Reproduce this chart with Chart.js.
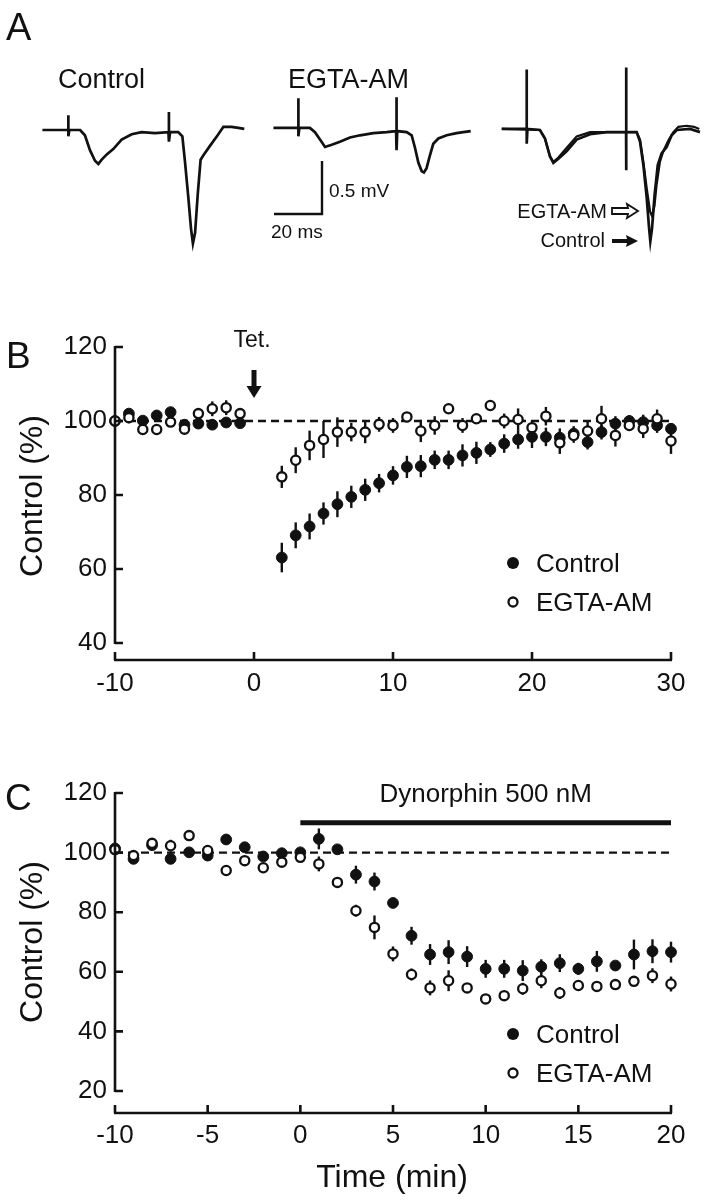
<!DOCTYPE html>
<html>
<head>
<meta charset="utf-8">
<script src="https://cdn.jsdelivr.net/npm/chart.js@4.4.1/dist/chart.umd.min.js"></script>
<style>
  body { margin: 0; background: #fff; }
  #page { position: relative; width: 706px; height: 1200px; overflow: hidden; background: #fff; }
  .panel { position: absolute; left: 0; width: 706px; }
</style>
</head>
<body>
<div id="page">
  <div class="panel" style="top:0;height:270px"><canvas id="chartA" width="706" height="270"></canvas></div>
  <div class="panel" style="top:300px;height:420px"><canvas id="chartB" width="706" height="420"></canvas></div>
  <div class="panel" style="top:740px;height:460px"><canvas id="chartC" width="706" height="460"></canvas></div>
</div>
<script>
// ---------- A: field potential traces, [ms, mV] ----------
const ctrlTrace = [[3.1,0],[13.9,0],[13.9,0.14],[13.9,-0.06],[14.3,0],[18.8,0],[20.8,-0.05],[22.9,-0.19],[25.0,-0.29],[26.4,-0.32],[27.8,-0.28],[29.9,-0.23],[32.6,-0.18],[36.1,-0.09],[40.3,-0.04],[44.4,-0.02],[50.0,-0.03],[55.6,-0.02],[55.8,0.17],[55.8,-0.11],[56.3,-0.02],[59.7,-0.02],[61.4,-0.06],[62.5,-0.30],[63.9,-0.64],[65.0,-0.93],[65.8,-1.07],[66.7,-0.97],[67.8,-0.61],[69.0,-0.28],[70.1,-0.24],[72.9,-0.15],[76.1,-0.05],[78.5,0.03],[81.9,0.03],[84.7,0.02],[87.2,0.01]];
const egtaTrace = [[5.6,0.02],[16.0,0.02],[16.0,0.30],[16.0,-0.06],[16.4,0.02],[20.8,0.02],[22.9,-0.02],[25.0,-0.09],[27.1,-0.16],[29.9,-0.14],[33.3,-0.11],[37.5,-0.07],[41.7,-0.05],[47.2,-0.03],[52.8,-0.02],[56.7,-0.01],[56.9,0.31],[56.9,-0.19],[57.2,-0.01],[61.1,-0.02],[63.2,-0.05],[64.6,-0.17],[66.0,-0.31],[67.4,-0.39],[68.3,-0.40],[69.4,-0.36],[70.8,-0.24],[72.2,-0.13],[74.3,-0.08],[77.8,-0.05],[81.9,-0.03],[84.7,-0.02],[87.8,-0.01]];
const overlayCtrl = [[4.9,0.01],[15.3,0.01],[15.3,0.57],[15.3,-0.13],[15.6,0.01],[20.8,0],[22.9,-0.08],[25.0,-0.25],[26.4,-0.31],[28.5,-0.27],[31.9,-0.20],[36.1,-0.09],[41.7,-0.04],[48.6,-0.02],[56.7,-0.02],[56.7,0.59],[56.7,-0.38],[56.9,-0.02],[61.1,-0.02],[62.5,-0.11],[63.9,-0.33],[65.3,-0.64],[66.3,-0.93],[66.8,-1.05],[67.5,-0.93],[68.6,-0.61],[69.9,-0.33],[71.5,-0.22],[73.6,-0.16],[75.7,-0.05],[77.8,0],[83.3,0.01],[87.5,-0.02]];
const overlayEgta = [[4.9,0.01],[20.8,0],[22.9,-0.08],[25.0,-0.25],[26.4,-0.30],[28.5,-0.26],[31.9,-0.17],[36.1,-0.06],[41.7,-0.02],[48.6,-0.02],[56.7,-0.02],[61.1,-0.02],[62.5,-0.09],[63.9,-0.30],[65.3,-0.55],[66.7,-0.77],[67.5,-0.81],[68.5,-0.72],[69.4,-0.52],[70.8,-0.30],[72.2,-0.20],[74.3,-0.10],[76.4,-0.02],[78.5,0.03],[81.9,0.04],[85.0,0.03],[87.2,0.01]];
const scaleBarMs = 20;
const scaleBarMv = 0.5;

// ---------- B: tetanus, % of control ----------
const timeB = [-10,-9,-8,-7,-6,-5,-4,-3,-2,-1,2,3,4,5,6,7,8,9,10,11,12,13,14,15,16,17,18,19,20,21,22,23,24,25,26,27,28,29,30];
const ctrlB = [100,102,100.1,101.5,102.4,99,99.3,99,99.6,99.4,
  63.1,69.1,71.5,75,77.5,79.5,81.4,83.2,85.3,87.6,87.8,89.5,89.5,90.7,91.4,92.3,93.9,95.0,95.7,95.7,95.5,96.6,94.3,97.0,99.3,100,99.7,98.8,97.9];
const ctrlBErr = [1,1,1,1,1,1,1,1,1,1,
  4,3.5,3.5,3,3.5,3,3,2.5,2.5,3,3,2.5,2.5,3,3,2,2.5,2.5,3,2.5,2.5,2,2,2,2,1.5,2,2,1.5];
const egtaB = [100,100.9,97.7,97.7,99.7,97.8,102,103.3,103.6,102,
  84.9,89.4,93.4,95,97,97,97,99.1,98.8,101.1,97.3,98.8,103.3,98.8,100.6,104.2,100,100.4,98.2,101.3,94.1,96.1,97.3,100.6,96.1,98.8,97.9,100.6,94.6];
const egtaBErr = [1,1.5,1,1,1,1,1.5,2,2,1.5,
  3,3.5,4,5,4,2.5,3,2,2,1,3,2.5,1,2,1,1,2,3,2,2.5,3,2,2.5,3.5,3,1.5,2.5,2.5,3.5];
const xTicksB = [-10, 0, 10, 20, 30];
const yTicksB = [40, 60, 80, 100, 120];
const tetanusAt = 0;

// ---------- C: dynorphin, % of control ----------
const timeC = [-10,-9,-8,-7,-6,-5,-4,-3,-2,-1,0,1,2,3,4,5,6,7,8,9,10,11,12,13,14,15,16,17,18,19,20];
const ctrlC = [101.4,97.9,102.5,97.9,100.1,99,104.4,101.8,98.7,99.8,100.1,104.6,101.1,92.6,90.3,83.1,72.1,65.8,66.6,65.1,61,61,60.4,61.7,62.9,61,63.5,62.1,65.8,66.9,66.6];
const ctrlCErr = [1,1,1,1,1,1,1,1,1,1,1,3.5,1,3,3,1,3,3.5,4,3.5,3,3,3.5,2.5,3,2,3.5,1,5,4,3.5];
const egtaC = [101,99,103.1,102.3,105.7,100.7,94.0,97.3,94.9,96.8,98.4,96.2,90.0,80.5,74.9,66.0,59.1,54.6,57.0,54.6,50.9,52.0,54.3,57.0,52.9,55.4,55.1,55.7,56.8,58.7,55.9];
const egtaCErr = [1,1,1,2,1,1,1,1,1.5,1.5,1,2.5,1,2,4,2.5,2,2.5,3.5,1.5,1.5,1.5,2,2.5,2,1.5,1.5,1.5,1,2.5,2.5];
const xTicksC = [-10, -5, 0, 5, 10, 15, 20];
const yTicksC = [20, 40, 60, 80, 100, 120];
const dynorphinFrom = 0;
const dynorphinTo = 20;
const dynorphinLabel = 'Dynorphin 500 nM';

// ---------- style / layout ----------
const INK = '#111';
const FONT = "'Liberation Sans', Arial, Helvetica, sans-serif";
const PX_PER_MS = 2.4, PX_PER_MV = 106, A_BASELINE = 130;
const traceOffsets = [35 / PX_PER_MS, 260 / PX_PER_MS, 490 / PX_PER_MS];

const pts = (xs, ys) => xs.map((x, i) => ({ x: x, y: ys[i] }));
const shift = (arr, dx) => arr.map(p => ({ x: p[0] + dx, y: p[1] }));

function text(ctx, str, x, y, size, align) {
    ctx.font = size + 'px ' + FONT;
    ctx.fillStyle = INK;
    ctx.textAlign = align || 'left';
    ctx.textBaseline = 'alphabetic';
    ctx.fillText(str, x, y);
}

// detached axes with inward ticks, like the printed figure
function axesPlugin(xTicks, yTicks) {
    return {
        id: 'sciAxes',
        afterDraw(chart) {
            const { ctx, scales: { x, y }, chartArea } = chart;
            const x0 = x.getPixelForValue(xTicks[0]);
            const x1 = x.getPixelForValue(xTicks[xTicks.length - 1]);
            const yTop = y.getPixelForValue(yTicks[yTicks.length - 1]);
            const yBot = y.getPixelForValue(yTicks[0]);
            const base = chartArea.bottom;
            ctx.save();
            ctx.strokeStyle = INK;
            ctx.lineWidth = 2.6;
            ctx.beginPath();
            ctx.moveTo(x0, yTop - 1); ctx.lineTo(x0, yBot + 1);
            yTicks.forEach(v => { const py = y.getPixelForValue(v); ctx.moveTo(x0, py); ctx.lineTo(x0 + 8, py); });
            ctx.moveTo(x0 - 1, base); ctx.lineTo(x1 + 1, base);
            xTicks.forEach(v => { const px = x.getPixelForValue(v); ctx.moveTo(px, base); ctx.lineTo(px, base - 8); });
            ctx.stroke();
            ctx.restore();
        }
    };
}

function errorPlugin(sets) {
    return {
        id: 'errBars',
        beforeDatasetsDraw(chart) {
            const { ctx, scales: { x, y } } = chart;
            ctx.save();
            ctx.strokeStyle = INK;
            ctx.lineWidth = 2.4;
            sets.forEach(s => {
                s.xs.forEach((t, i) => {
                    const px = x.getPixelForValue(t);
                    ctx.beginPath();
                    ctx.moveTo(px, y.getPixelForValue(s.ys[i] - s.err[i]));
                    ctx.lineTo(px, y.getPixelForValue(s.ys[i] + s.err[i]));
                    ctx.stroke();
                });
            });
            ctx.restore();
        }
    };
}

function legendAndTitle(chart, legendY, titleY) {
    const ctx = chart.ctx;
    ctx.save();
    ctx.beginPath(); ctx.arc(513, legendY, 6, 0, 2 * Math.PI); ctx.fillStyle = INK; ctx.fill();
    ctx.beginPath(); ctx.arc(513, legendY + 39, 4.5, 0, 2 * Math.PI);
    ctx.fillStyle = '#fff'; ctx.fill(); ctx.strokeStyle = INK; ctx.lineWidth = 2.3; ctx.stroke();
    text(ctx, 'Control', 536, legendY + 9, 26);
    text(ctx, 'EGTA-AM', 536, legendY + 48, 26);
    ctx.translate(42, titleY);
    ctx.rotate(-Math.PI / 2);
    text(ctx, 'Control (%)', 0, 0, 32, 'center');
    ctx.restore();
}

function pointSets(xs, ctrl, egta, extra) {
    return [
        { data: pts(xs, egta), order: 1, clip: false, pointRadius: 4.6, pointBorderWidth: 2.3,
          pointBackgroundColor: '#fff', pointBorderColor: INK, showLine: false },
        { data: pts(xs, ctrl), order: 2, clip: false, pointRadius: 5.4, pointBorderWidth: 1,
          pointBackgroundColor: INK, pointBorderColor: INK, showLine: false },
        { data: [{ x: xs[0], y: 100 }, { x: xs[xs.length - 1], y: 100 }], order: 10, showLine: true,
          borderColor: INK, borderWidth: 2.4, borderDash: [8, 5], pointRadius: 0 }
    ].concat(extra || []);
}

function scaleOpts(min, max, ticks, size, fitKey, fitVal, pad, display) {
    return {
        type: 'linear', min: min, max: max, display: display !== false,
        grid: { display: false, drawTicks: false }, border: { display: false },
        afterBuildTicks: ax => { ax.ticks = ticks.map(v => ({ value: v })); },
        afterFit: ax => { ax[fitKey] = fitVal; },
        ticks: { color: INK, padding: pad, font: { family: FONT, size: size }, callback: v => String(v) }
    };
}

const common = {
    responsive: false, animation: false, events: [],
    plugins: { legend: { display: false }, tooltip: { enabled: false } }
};

Chart.defaults.font.family = FONT;

// ---------- panel A ----------
const lineDs = d => ({ data: d, showLine: true, borderColor: INK, borderWidth: 2.7, pointRadius: 0, tension: 0 });
const barCornerMs = 322 / PX_PER_MS, barCornerMv = (A_BASELINE - 214) / PX_PER_MV;

new Chart(document.getElementById('chartA'), {
    type: 'scatter',
    data: { datasets: [
        lineDs(shift(ctrlTrace, traceOffsets[0])),
        lineDs(shift(egtaTrace, traceOffsets[1])),
        lineDs(shift(overlayCtrl, traceOffsets[2])),
        Object.assign(lineDs(shift(overlayEgta, traceOffsets[2])), { borderWidth: 2.2 }),
        Object.assign(lineDs([
            { x: barCornerMs - scaleBarMs, y: barCornerMv },
            { x: barCornerMs, y: barCornerMv },
            { x: barCornerMs, y: barCornerMv + scaleBarMv }]), { borderWidth: 2.4 })
    ] },
    options: Object.assign({}, common, {
        layout: { padding: 0 },
        scales: {
            x: { type: 'linear', display: false, min: 0, max: 706 / PX_PER_MS },
            y: { type: 'linear', display: false, min: -(270 - A_BASELINE) / PX_PER_MV, max: A_BASELINE / PX_PER_MV }
        }
    }),
    plugins: [{
        id: 'labelsA',
        afterDraw(chart) {
            const ctx = chart.ctx;
            text(ctx, 'A', 6, 40, 38);
            text(ctx, 'Control', 58, 88, 27);
            text(ctx, 'EGTA-AM', 288, 88, 27);
            text(ctx, '0.5 mV', 329, 197, 19);
            text(ctx, '20 ms', 271, 238, 19);
            text(ctx, 'EGTA-AM', 607, 218, 20, 'right');
            text(ctx, 'Control', 605, 247, 20, 'right');
            ctx.save();
            ctx.strokeStyle = INK; ctx.fillStyle = INK; ctx.lineWidth = 1.8;
            // hollow arrow
            ctx.beginPath();
            ctx.moveTo(612, 208); ctx.lineTo(628, 208); ctx.lineTo(627, 204); ctx.lineTo(638, 211);
            ctx.lineTo(627, 218); ctx.lineTo(628, 214); ctx.lineTo(612, 214); ctx.closePath();
            ctx.stroke();
            // filled arrow
            ctx.beginPath();
            ctx.moveTo(612, 239); ctx.lineTo(627, 239); ctx.lineTo(626, 235); ctx.lineTo(638, 241);
            ctx.lineTo(626, 247); ctx.lineTo(627, 243); ctx.lineTo(612, 243); ctx.closePath();
            ctx.fill();
            ctx.restore();
        }
    }]
});

// ---------- panel B ----------
new Chart(document.getElementById('chartB'), {
    type: 'scatter',
    data: { datasets: pointSets(timeB, ctrlB, egtaB) },
    options: Object.assign({}, common, {
        layout: { padding: { top: 47, right: 35, left: 0, bottom: 0 } },
        scales: {
            x: scaleOpts(-10, 30, xTicksB, 26, 'height', 60, 8),
            y: scaleOpts(40 - 17 / 3.7, 120, yTicksB, 26, 'width', 115, 8)
        }
    }),
    plugins: [
        errorPlugin([{ xs: timeB, ys: ctrlB, err: ctrlBErr }, { xs: timeB, ys: egtaB, err: egtaBErr }]),
        axesPlugin(xTicksB, yTicksB),
        {
            id: 'labelsB',
            afterDraw(chart) {
                const ctx = chart.ctx, x = chart.scales.x;
                text(ctx, 'B', 6, 68, 37);
                const ax = x.getPixelForValue(tetanusAt);
                text(ctx, 'Tet.', ax - 2, 47, 23, 'center');
                ctx.save();
                ctx.fillStyle = INK;
                ctx.fillRect(ax - 2.5, 70, 5, 18);
                ctx.beginPath(); ctx.moveTo(ax - 7.5, 86); ctx.lineTo(ax + 7.5, 86); ctx.lineTo(ax, 98); ctx.closePath(); ctx.fill();
                ctx.restore();
                legendAndTitle(chart, 263, 196);
            }
        }
    ]
});

// ---------- panel C ----------
new Chart(document.getElementById('chartC'), {
    type: 'scatter',
    data: { datasets: pointSets(timeC, ctrlC, egtaC, [
        { data: [{ x: dynorphinFrom, y: 110 }, { x: dynorphinTo, y: 110 }], order: 11, showLine: true,
          borderColor: INK, borderWidth: 5, pointRadius: 0 }
    ]) },
    options: Object.assign({}, common, {
        layout: { padding: { top: 53, right: 35, left: 0, bottom: 0 } },
        scales: {
            x: scaleOpts(-10, 20, xTicksC, 26, 'height', 87, 7),
            y: scaleOpts(20 - 22 / 2.98, 120, yTicksC, 26, 'width', 115, 8)
        }
    }),
    plugins: [
        errorPlugin([{ xs: timeC, ys: ctrlC, err: ctrlCErr }, { xs: timeC, ys: egtaC, err: egtaCErr }]),
        axesPlugin(xTicksC, yTicksC),
        {
            id: 'labelsC',
            afterDraw(chart) {
                const ctx = chart.ctx, x = chart.scales.x;
                text(ctx, 'C', 5, 70, 37);
                const mid = x.getPixelForValue((dynorphinFrom + dynorphinTo) / 2);
                text(ctx, dynorphinLabel, mid, 62, 26, 'center');
                legendAndTitle(chart, 294, 202);
                text(ctx, 'Time (min)', 392, 447, 32, 'center');
            }
        }
    ]
});
</script>
</body>
</html>
